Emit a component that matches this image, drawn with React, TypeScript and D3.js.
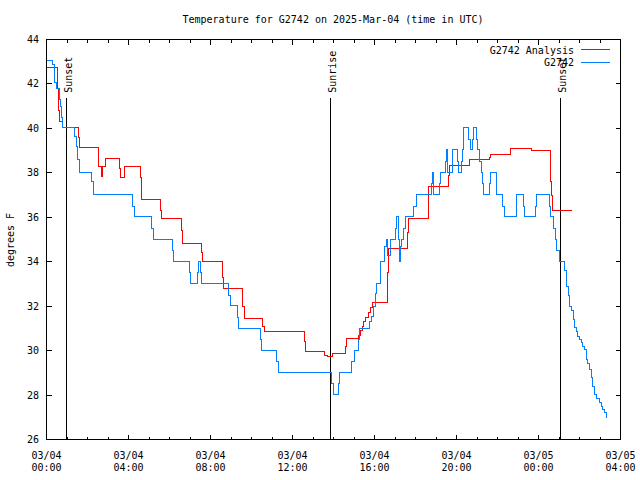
import React from 'react';
import * as d3 from 'd3';

// Minutes after 2025-03-04 00:00 UTC
const analysisMinutes = [0, 33, 36, 38, 46, 95, 98, 153, 160, 165, 172, 214, 217, 228, 274, 279, 335, 337, 394, 398, 455, 457, 514, 519, 575, 580, 633, 638, 754, 759, 814, 822, 838, 874, 877, 914, 918, 924, 929, 935, 941, 947, 953, 960, 997, 1000, 1058, 1060, 1117, 1119, 1178, 1180, 1238, 1298, 1300, 1359, 1420, 1474, 1476, 1478, 1482, 1536];
const analysisTemps = [42.73, 41.8, 40.8, 40.3, 40.05, 39.6, 39.13, 38.3, 37.85, 38.3, 38.65, 38.2, 37.8, 38.3, 37.8, 36.8, 36.3, 35.93, 35.4, 34.82, 34.4, 34.0, 33.3, 32.78, 32.0, 31.43, 31.1, 30.85, 30.4, 29.96, 29.8, 29.72, 29.87, 30.2, 30.53, 30.7, 30.9, 31.1, 31.3, 31.5, 31.7, 31.95, 32.15, 32.15, 33.5, 34.58, 35.3, 35.95, 36.7, 37.37, 37.9, 38.35, 38.59, 38.7, 38.81, 39.08, 38.99, 38.5, 37.6, 36.98, 36.3, 36.3];

const obsMinutes = [0, 18, 23, 30, 37, 41, 45, 48, 82, 87, 92, 97, 133, 138, 253, 258, 308, 314, 370, 373, 419, 422, 443, 446, 452, 455, 534, 539, 560, 563, 626, 630, 674, 679, 833, 840, 855, 859, 894, 901, 914, 916, 945, 950, 957, 962, 965, 978, 990, 994, 998, 1006, 1020, 1025, 1030, 1034, 1037, 1039, 1046, 1051, 1075, 1082, 1127, 1129, 1134, 1151, 1153, 1168, 1170, 1173, 1187, 1189, 1204, 1207, 1215, 1217, 1221, 1235, 1240, 1246, 1251, 1259, 1262, 1267, 1272, 1276, 1280, 1297, 1300, 1318, 1336, 1341, 1375, 1377, 1396, 1399, 1430, 1433, 1471, 1474, 1485, 1489, 1494, 1502, 1516, 1521, 1528, 1531, 1538, 1541, 1545, 1550, 1555, 1560, 1565, 1570, 1575, 1580, 1584, 1589, 1594, 1599, 1604, 1610, 1619, 1624, 1628, 1633, 1638];
const obsTemps = [43.06, 42.88, 42.05, 41.78, 41.3, 41.0, 40.5, 40.05, 39.65, 39.2, 38.6, 38.0, 37.6, 37.03, 36.5, 36.02, 35.5, 35.0, 34.5, 34.0, 33.5, 33.0, 33.5, 34.0, 33.5, 33.0, 32.5, 32.03, 31.5, 31.0, 30.5, 30.0, 29.5, 29.0, 28.5, 28.03, 28.5, 29.0, 29.5, 30.0, 30.5, 31.0, 31.3, 31.55, 32.0, 32.56, 33.02, 34.0, 34.7, 35.0, 34.3, 35.0, 35.5, 36.02, 35.0, 34.0, 34.7, 35.0, 35.5, 36.02, 36.5, 37.01, 37.5, 38.03, 37.01, 37.5, 38.03, 38.5, 39.05, 38.03, 38.5, 39.05, 38.5, 38.03, 38.5, 39.05, 40.03, 39.5, 39.05, 39.5, 40.03, 39.5, 39.05, 38.5, 38.03, 37.5, 37.01, 37.5, 38.0, 37.01, 36.5, 36.02, 36.5, 37.01, 36.5, 36.02, 36.5, 37.03, 36.5, 36.04, 35.5, 35.0, 34.5, 34.03, 33.6, 32.9, 32.5, 32.0, 31.8, 31.4, 31.03, 30.85, 30.65, 30.5, 30.35, 30.2, 30.05, 29.6, 29.4, 29.15, 28.8, 28.4, 28.03, 27.85, 27.65, 27.5, 27.35, 27.2, 27.0];

const eventNames = ['Sunset', 'Sunrise', 'Sunset'];
const eventMinutes = [59, 831, 1505];

const seriesNames = ['G2742 Analysis', 'G2742'];
const yTicks = [26, 28, 30, 32, 34, 36, 38, 40, 42, 44];
const xMajorTicks = [0, 240, 480, 720, 960, 1200, 1440, 1680];
const xMinorTicks = d3.range(0, 1681, 60);

const title = 'Temperature for G2742 on 2025-Mar-04 (time in UTC)';
const yLabel = 'degrees F';

const FONT = "'DejaVu Sans Mono', monospace";
const COLORS = ['#ff0000', '#0080ff'];

export default function App() {
  const x = d3.scaleLinear().domain([0, 1680]).range([46.5, 620.5]);
  const y = d3.scaleLinear().domain([26, 44]).range([439.5, 39.5]);
  const snap = (v: number) => Math.round(v - 0.5) + 0.5;

  const line = d3
    .line<[number, number]>()
    .x((d) => snap(x(d[0])))
    .y((d) => snap(y(d[1])))
    .curve(d3.curveStepAfter);

  const analysis: [number, number][] = analysisMinutes.map((m, i) => [m, analysisTemps[i]]);
  const obs: [number, number][] = obsMinutes.map((m, i) => [m, obsTemps[i]]);

  const base = Date.UTC(2025, 2, 4);
  const fmtDate = d3.utcFormat('%m/%d');
  const fmtTime = d3.utcFormat('%H:%M');

  const left = 46.5, right = 620.5, top = 39.5, bottom = 439.5;

  return (
    <svg
      width={640}
      height={480}
      style={{ position: 'absolute', left: 0, top: 0, background: '#fff' }}
      fontFamily={FONT}
      fontSize={10}
    >
      <rect x={0} y={0} width={640} height={480} fill="#fff" />
      <text x={333} y={23} textAnchor="middle" fill="#000">{title}</text>
      <text transform="translate(13.5,240) rotate(-90)" textAnchor="middle" fill="#000">{yLabel}</text>

      {/* ticks */}
      <g stroke="#000" strokeWidth={1} shapeRendering="crispEdges">
        {yTicks.map((t) => (
          <g key={'y' + t}>
            <line x1={left} x2={left + 5} y1={y(t)} y2={y(t)} />
            <line x1={right - 5} x2={right} y1={y(t)} y2={y(t)} />
          </g>
        ))}
        {xMinorTicks.map((m) => {
          const len = m % 240 === 0 ? 5 : 3;
          return (
            <g key={'x' + m}>
              <line x1={snap(x(m))} x2={snap(x(m))} y1={bottom} y2={bottom - len} />
              <line x1={snap(x(m))} x2={snap(x(m))} y1={top} y2={top + len} />
            </g>
          );
        })}
      </g>
      {yTicks.map((t) => (
        <text key={'yl' + t} x={39} y={y(t) + 3.5} textAnchor="end" fill="#000">{t}</text>
      ))}
      {xMajorTicks.map((m) => {
        const d = new Date(base + m * 60000);
        return (
          <g key={'xl' + m}>
            <text x={x(m)} y={459} textAnchor="middle" fill="#000">{fmtDate(d)}</text>
            <text x={x(m)} y={471} textAnchor="middle" fill="#000">{fmtTime(d)}</text>
          </g>
        );
      })}

      {/* event markers */}
      {eventMinutes.map((m, i) => (
        <g key={'ev' + i}>
          <line
            x1={snap(x(m))}
            x2={snap(x(m))}
            y1={y(41.35)}
            y2={bottom}
            stroke="#000"
            strokeWidth={1}
            shapeRendering="crispEdges"
          />
          <text transform={`translate(${snap(x(m)) + 5},${y(41.6)}) rotate(-90)`} fill="#000">{eventNames[i]}</text>
        </g>
      ))}

      {/* series */}
      <path d={line(analysis) || ''} fill="none" stroke={COLORS[0]} strokeWidth={1} shapeRendering="crispEdges" />
      <path d={line(obs) || ''} fill="none" stroke={COLORS[1]} strokeWidth={1} shapeRendering="crispEdges" />

      {/* legend */}
      {seriesNames.map((n, i) => (
        <g key={'lg' + i}>
          <text x={574} y={53.5 + i * 12.7} textAnchor="end" fill="#000">{n}</text>
          <line x1={581} x2={610} y1={49.5 + i * 13} y2={49.5 + i * 13} stroke={COLORS[i]} strokeWidth={1} shapeRendering="crispEdges" />
        </g>
      ))}

      {/* border */}
      <rect x={left} y={top} width={right - left} height={bottom - top} fill="none" stroke="#000" strokeWidth={1} shapeRendering="crispEdges" />
    </svg>
  );
}
